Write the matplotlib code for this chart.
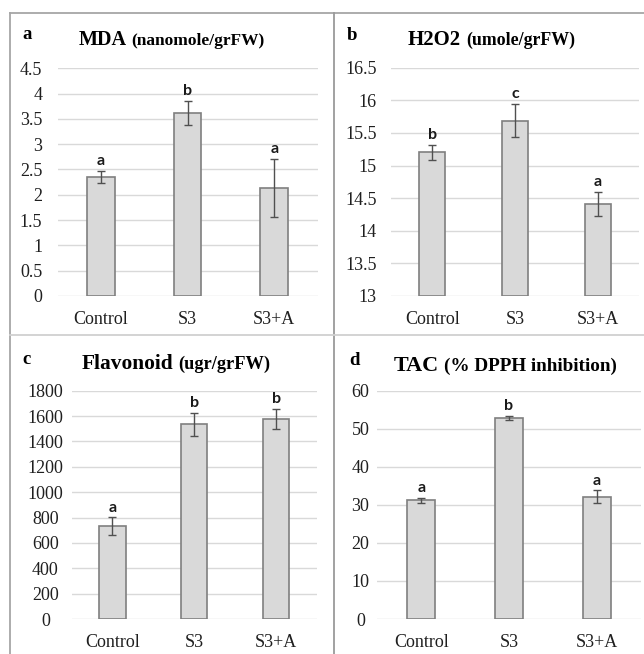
import matplotlib
matplotlib.use("Agg")
import matplotlib.pyplot as plt
from matplotlib.lines import Line2D
from matplotlib.ticker import FixedLocator, FuncFormatter
import numpy as np

# ---------------- data ----------------
categories = ["Control", "S3", "S3+A"]

mda_values = [2.35, 3.62, 2.14]
mda_errors = [0.12, 0.24, 0.57]
mda_letters = ["a", "b", "a"]

h2o2_values = [15.20, 15.69, 14.41]
h2o2_errors = [0.12, 0.25, 0.19]
h2o2_letters = ["b", "c", "a"]

flav_values = [733, 1534, 1576]
flav_errors = [68, 88, 80]
flav_letters = ["a", "b", "b"]

tac_values = [31.2, 52.9, 32.1]
tac_errors = [0.7, 0.5, 1.7]
tac_letters = ["a", "b", "a"]

mda_ticks = [0, 0.5, 1, 1.5, 2, 2.5, 3, 3.5, 4, 4.5]
h2o2_ticks = [13, 13.5, 14, 14.5, 15, 15.5, 16, 16.5]
flav_ticks = [0, 200, 400, 600, 800, 1000, 1200, 1400, 1600, 1800]
tac_ticks = [0, 10, 20, 30, 40, 50, 60]

# ---------------- figure ----------------
W, H = 644, 654
DPI = 100
fig = plt.figure(figsize=(W / DPI, H / DPI), dpi=DPI)
fig.patch.set_facecolor("white")

SERIF = ["Liberation Serif", "DejaVu Serif"]
SANS = ["Lato", "DejaVu Sans"]
PX = 72.0 / DPI  # points per pixel

BAR_FILL = "#d9d9d9"
BAR_EDGE = "#7f7f7f"
GRID = "#d9d9d9"
TXT = "#1f1f1f"


def px_rect(left, right, top, bottom):
    return [left / W, 1 - bottom / H, (right - left) / W, (bottom - top) / H]


def panel(rect, values, errors, letters, ticks, ylab_align, ylab_pad_px):
    ax = fig.add_axes(px_rect(*rect))
    x = np.arange(len(categories))
    ymin, ymax = ticks[0], ticks[-1]
    ax.set_xlim(-0.5, len(categories) - 0.5)
    ax.set_ylim(ymin, ymax)
    heights = [v - ymin for v in values]
    ax.bar(x, heights, bottom=ymin, width=0.32, color=BAR_FILL,
           edgecolor=BAR_EDGE, linewidth=1.2, zorder=3)
    ax.errorbar(x, values, yerr=errors, fmt="none", ecolor="#505050",
                elinewidth=1.0, capsize=2.6, capthick=1.0, zorder=4)
    for xi, v, e, lab in zip(x, values, errors, letters):
        ax.annotate(lab, (xi, v + e), xytext=(0, 2), textcoords="offset points",
                    ha="center", va="bottom", fontsize=11.5, fontweight="bold",
                    family=SANS, color="#1a1a1a", zorder=5)
    ax.yaxis.set_major_locator(FixedLocator(ticks))
    ax.yaxis.set_major_formatter(FuncFormatter(lambda v, p: f"{v:g}"))
    ax.grid(axis="y", color=GRID, linewidth=1.0, zorder=0)
    ax.set_axisbelow(True)
    for s in ax.spines.values():
        s.set_visible(False)
    ax.set_xticks(x)
    ax.set_xticklabels(categories)
    ax.tick_params(axis="both", length=0, labelsize=13, colors=TXT)
    ax.tick_params(axis="x", pad=10.5)
    ax.tick_params(axis="y", pad=ylab_pad_px * PX)
    for t in ax.get_xticklabels() + ax.get_yticklabels():
        t.set_fontfamily(SERIF)
    for t in ax.get_yticklabels():
        t.set_horizontalalignment(ylab_align)
    return ax


ax_a = panel((57.7, 317.5, 68.3, 296), mda_values, mda_errors, mda_letters,
             mda_ticks, "right", 15.5)
ax_b = panel((390.8, 639.3, 67.7, 296), h2o2_values, h2o2_errors, h2o2_letters,
             h2o2_ticks, "right", 14)
ax_c = panel((71.5, 317.0, 390.7, 619), flav_values, flav_errors, flav_letters,
             flav_ticks, "center", 26)
ax_d = panel((377.5, 640.5, 390.7, 619), tac_values, tac_errors, tac_letters,
             tac_ticks, "center", 17)

# ---------------- titles ----------------
renderer = fig.canvas.get_renderer()


def title(letter, lx, lbase, main, sub, mx, mbase, scale):
    fig.text(lx / W, 1 - lbase / H, letter, fontsize=13.5, fontweight="bold",
             family=SERIF, color="black", ha="left", va="baseline")
    t = fig.text(mx / W, 1 - mbase / H, main, fontsize=14.5 * scale,
                 fontweight="bold", family=SERIF, color="black", ha="left",
                 va="baseline")
    bb = t.get_window_extent(renderer=renderer)
    fig.text((bb.x1 + 5) / W, 1 - mbase / H, sub, fontsize=12.5 * scale,
             fontweight="bold", family=SERIF, color="black", ha="left",
             va="baseline")


title("a", 22, 39, "MDA", "(nanomole/grFW)", 78.5, 45, 1.0)
title("b", 347, 40.5, "H2O2", "(umole/grFW)", 408, 45, 1.03)
title("c", 22.5, 363.5, "Flavonoid", "(ugr/grFW)", 81.5, 369, 1.06)
title("d", 349, 365, "TAC", "(% DPPH inhibition)", 393.5, 371, 1.1)

# ---------------- frame lines ----------------
FRAME = "#a6a6a6"


def hline(y, x0, x1, color, lw):
    fig.add_artist(Line2D([x0 / W, x1 / W], [1 - y / H, 1 - y / H],
                          transform=fig.transFigure, color=color, linewidth=lw))


def vline(x, y0, y1, color, lw):
    fig.add_artist(Line2D([x / W, x / W], [1 - y0 / H, 1 - y1 / H],
                          transform=fig.transFigure, color=color, linewidth=lw))


hline(13, 10, 644, FRAME, 1.3)
vline(10, 13, 654, FRAME, 1.3)
vline(334, 13, 654, "#9a9a9a", 1.3)
hline(335, 10, 644, "#d0d0d0", 1.3)

fig.savefig("out.png", dpi=DPI, facecolor="white")
